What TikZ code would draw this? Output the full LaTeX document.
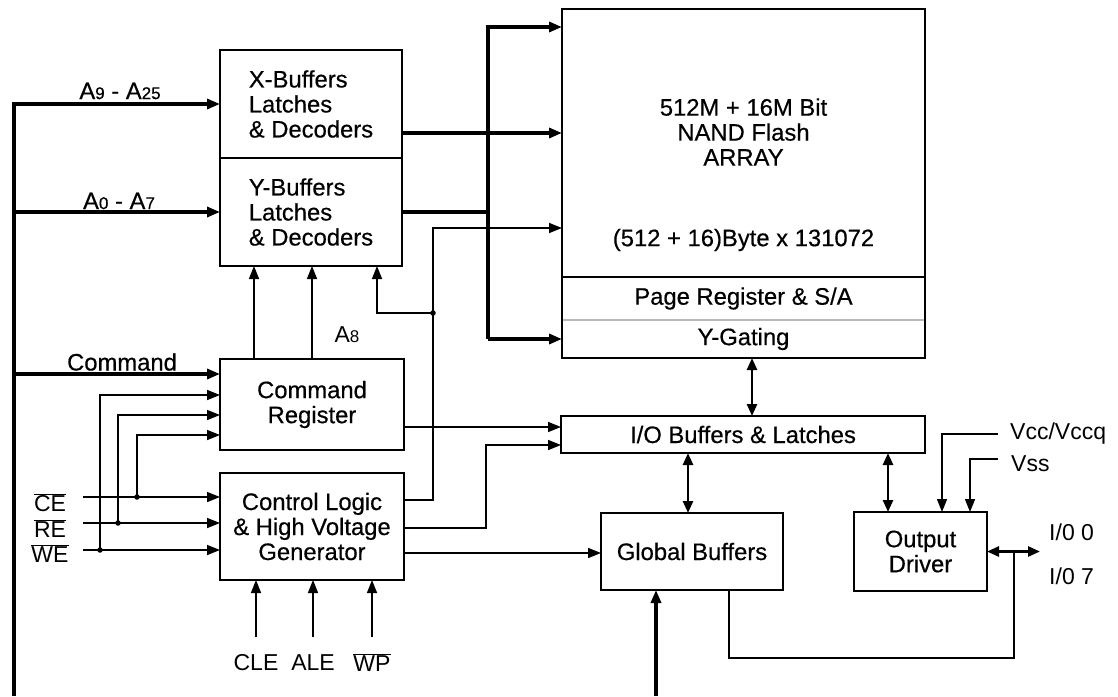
\documentclass[tikz,border=0pt]{standalone}
\usepackage{fontspec}
\setmainfont{Liberation Sans}
\newfontfamily\heavyface{Liberation Sans}[FakeBold=0.5]
\usetikzlibrary{arrows.meta,positioning}

\newcommand\boxfont{\heavyface\fontsize{23.8}{25}\selectfont}
\newcommand\pinfont{\fontsize{23}{25}\selectfont}
\newcommand\dg[1]{{\fontsize{17}{17}\selectfont #1}}
\newcommand\ovl[1]{$\overline{\hbox{#1}}$}

\begin{document}
\begin{tikzpicture}[x=1pt, y=-1pt,
    block/.style={draw, line width=1.6pt, inner sep=0pt, outer sep=0pt, align=center, font=\boxfont},
    lbl/.style={inner sep=0pt, align=center, font=\boxfont},
    pin/.style={inner sep=0pt, align=center, font=\pinfont},
    bus/.style={line width=3.4pt},
    iobus/.style={line width=2.6pt},
    sig/.style={line width=1.5pt},
    arrow/.style={-{Triangle[length=13pt,width=10pt]}},
    twoway/.style={{Triangle[length=12pt,width=10pt]}-{Triangle[length=12pt,width=10pt]}},
    tap/.style={circle, fill, inner sep=0pt, minimum size=5.5pt}
]
\useasboundingbox (0,0) rectangle (1118,696);

% blocks
\node[block, minimum width=182pt, minimum height=108pt, align=left] (xbuf) at (311,104) {X-Buffers\\Latches\\\& Decoders};
\node[block, minimum width=182pt, minimum height=108pt, align=left, below=0pt of xbuf] (ybuf) {Y-Buffers\\Latches\\\& Decoders};
\node[block, minimum width=363pt, minimum height=268pt] (array) at (743.5,143) {};
\node[lbl] (arraytxt) at (743.5,132) {512M + 16M Bit\\NAND Flash\\ARRAY};
\node[lbl] (arraysize) at (743.5,240) {(512 + 16)Byte x 131072};
\node[block, minimum width=363pt, minimum height=43pt, below=0pt of array] (pagereg) {Page Register \& S/A};
\node[block, minimum width=363pt, minimum height=38pt, below=0pt of pagereg] (ygate) {Y-Gating};
\draw[gray!55, line width=1.6pt] ([xshift=1pt]pagereg.south west) -- ([xshift=-1pt]pagereg.south east);
\node[block, minimum width=184pt, minimum height=91pt] (cmdreg) at (312,404.5) {Command\\Register};
\node[block, minimum width=184pt, minimum height=107pt] (ctrl) at (312,526.5) {Control Logic\\\& High Voltage\\Generator};
\node[block, minimum width=364pt, minimum height=37pt] (iobuf) at (743,434.5) {I/O Buffers \& Latches};
\node[block, minimum width=182pt, minimum height=77pt] (glob) at (692,551.5) {Global Buffers};
\node[block, minimum width=133pt, minimum height=79pt] (outdrv) at (920.5,551.5) {Output\\Driver};

% labels
\node[lbl] (ahi) at (120,91) {A\dg{9} - A\dg{25}};
\node[lbl] (alo) at (119,201) {A\dg{0} - A\dg{7}};
\node[lbl] (cmdlbl) at (122,362) {Command};
\node[pin] (a8) at (347,335) {A\dg{8}};
\node[pin] (ce) at (50,503) {\ovl{CE}};
\node[pin] (re) at (50,529) {\ovl{RE}};
\node[pin] (we) at (50,554) {\ovl{WE}};
\node[pin] (cle) at (256,663) {CLE};
\node[pin] (ale) at (313,663) {ALE};
\node[pin] (wp) at (372,663) {\ovl{WP}};
\node[pin, anchor=west] (vcc) at (1010,434) {Vcc/Vccq};
\node[pin, anchor=west] (vss) at (1011,464) {Vss};
\node[pin, anchor=west] (io0) at (1049,532) {I/0 0};
\node[pin, anchor=west] (io7) at (1049,576) {I/0 7};

\coordinate (busbot) at (14,696);
\coordinate (abus) at (488,27);
\coordinate (ctrlup) at (433,228);
\coordinate (iojog) at (486,445);
\coordinate (iojct) at (1014,551.5);
\coordinate (ioend) at (1040,551.5);
\coordinate (iofb) at (729,658);
\coordinate (inrow) at (0,637);
\coordinate (cein) at (83,497);
\coordinate (rein) at (83,523);
\coordinate (wein) at (83,550);
\node[tap] (ytap) at (433,313) {};
\node[tap] (cetap) at (137,497) {};
\node[tap] (retap) at (118,523) {};
\node[tap] (wetap) at (100,550) {};

% address / command bus
\draw[bus, arrow] (busbot) |- (xbuf.west);
\draw[bus, arrow] (busbot |- ybuf.west) -- (ybuf.west);
\path ([yshift=30.5pt]cmdreg.west) coordinate (cmdin);
\draw[bus, arrow] (busbot |- cmdin) -- (cmdin);

% into the array
\draw[bus] (ybuf.east) -- (ybuf.east -| abus);
\draw[bus, arrow] (abus |- ygate.west) -- (abus) -- (abus -| array.west);
\draw[bus, arrow] (abus |- ygate.west) -- (ygate.west);
\path ([yshift=-29pt]xbuf.east) coordinate (xout);
\draw[bus, arrow] (xout) -- (xout -| array.west);

% below the Y-buffers
\path ([xshift=-58pt]cmdreg.north) coordinate (ya);
\draw[sig, arrow] (ya) -- (ya |- ybuf.south);
\draw[sig, arrow] (cmdreg.north) -- (cmdreg.north |- ybuf.south);
\path ([xshift=66pt]ybuf.south) coordinate (yin);
\draw[sig, arrow] (ytap.center) -| (yin);
\path ([yshift=26.5pt]ctrl.east) coordinate (ctrlout);
\draw[sig, arrow] (ctrlout) -| (ctrlup) -- (ctrlup -| array.west);

% CE RE WE
\draw[sig, arrow] (cein) -- (cein -| ctrl.west);
\draw[sig, arrow] (rein) -- (rein -| ctrl.west);
\draw[sig, arrow] (wein) -- (wein -| ctrl.west);
\path ([yshift=-30.5pt]cmdreg.west) coordinate (cra)
      ([yshift=-10.5pt]cmdreg.west) coordinate (crb)
      ([yshift=9.5pt]cmdreg.west) coordinate (crc);
\draw[sig, arrow] (cetap.center) |- (cra);
\draw[sig, arrow] (retap.center) |- (crb);
\draw[sig, arrow] (wetap.center) |- (crc);

% CLE ALE WP
\draw[sig, arrow] (cle |- inrow) -- (cle |- ctrl.south);
\draw[sig, arrow] (ale |- inrow) -- (ale |- ctrl.south);
\draw[sig, arrow] (wp |- inrow) -- (wp |- ctrl.south);

% to I/O and global buffers
\path ([yshift=-22.5pt]cmdreg.east) coordinate (crout);
\draw[sig, arrow] (crout) -- (crout -| iobuf.west);
\path ([yshift=-1.5pt]ctrl.east) coordinate (ctrlb);
\draw[sig, arrow] (ctrlb) -| (iojog) -- (iojog -| iobuf.west);
\path ([yshift=-26.5pt]ctrl.east) coordinate (ctrlc);
\draw[sig, arrow] (ctrlc) -- (ctrlc -| glob.west);
\path ([xshift=-36pt]glob.south) coordinate (gin);
\draw[bus, arrow] (gin |- busbot) -- (gin);

% data paths
\path ([xshift=8.5pt]ygate.south) coordinate (gsouth);
\draw[iobus, twoway] (gsouth) -- (gsouth |- iobuf.north);
\path ([xshift=-4pt]glob.north) coordinate (gnorth);
\draw[iobus, twoway] (gnorth) -- (gnorth |- iobuf.south);
\path ([xshift=-32.5pt]outdrv.north) coordinate (onorth);
\draw[iobus, twoway] (onorth) -- (onorth |- iobuf.south);

% supplies and pins
\path ([xshift=21.5pt]outdrv.north) coordinate (vccin)
      ([xshift=49.5pt]outdrv.north) coordinate (vssin);
\draw[sig, arrow] ([xshift=-12pt]vcc.west) -| (vccin);
\draw[sig, arrow] ([xshift=-13pt,yshift=5pt]vss.west) -| (vssin);
\draw[iobus, twoway] (outdrv.east) -- (ioend);
\draw[sig] (iojct) |- (iofb) -- (iofb |- glob.south);
\end{tikzpicture}
\end{document}
